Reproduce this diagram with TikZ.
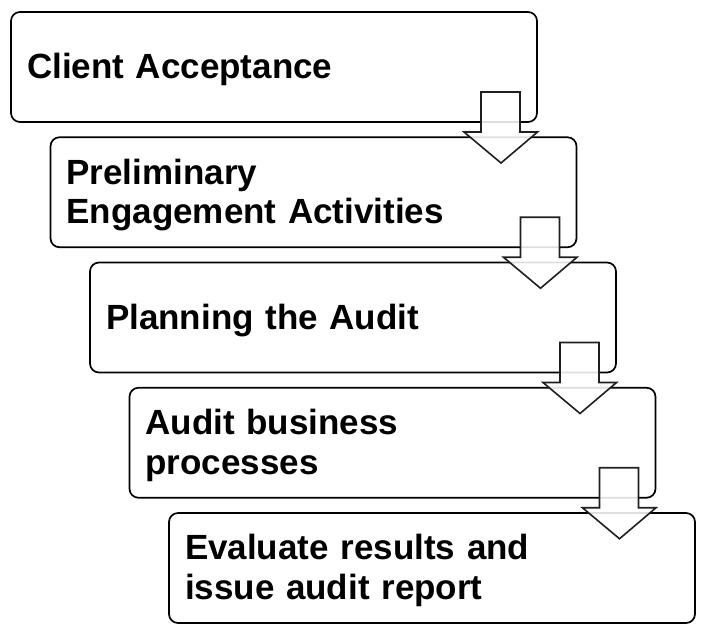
\documentclass[tikz,border=0pt]{standalone}
\usepackage{fontspec}
\setmainfont{Liberation Sans}
\usetikzlibrary{calc}
\begin{document}
\begin{tikzpicture}[x=1pt,y=-1pt,
  stage/.style={draw=black, line width=1.7pt, rounded corners=9pt, fill=white,
    minimum height=110pt, text width=494pt, inner xsep=16pt, inner ysep=0pt,
    outer sep=0pt, align=left, anchor=north west,
    execute at begin node={\rule{0pt}{30.5pt}},
    font=\bfseries\fontsize{35}{39.5}\selectfont},
  flow/.style={draw=black!88, line width=1.6pt, line join=miter, fill=white, fill opacity=0.87}]
\useasboundingbox (0,0) rectangle (711,633);
\newcommand\flowarrow[1]{%
  \draw[flow, shift={(#1.north east)}] (-56,80) -- (-17,80) -- (-17,120) -- (0.5,120)
     -- (-36,151) -- (-73,120) -- (-56,120) -- cycle;}
\node[stage] (b1) at (11,12) {Client Acceptance};
\node[stage] (b2) at (50.5,137.25) {Preliminary\\Engagement Activities};
\flowarrow{b1}
\node[stage] (b3) at (90,262.5) {Planning the Audit};
\flowarrow{b2}
\node[stage] (b4) at (129.5,387.75) {Audit business\\processes};
\flowarrow{b3}
\node[stage] (b5) at (169,513) {Evaluate results and\\issue audit report};
\flowarrow{b4}
\end{tikzpicture}
\end{document}
